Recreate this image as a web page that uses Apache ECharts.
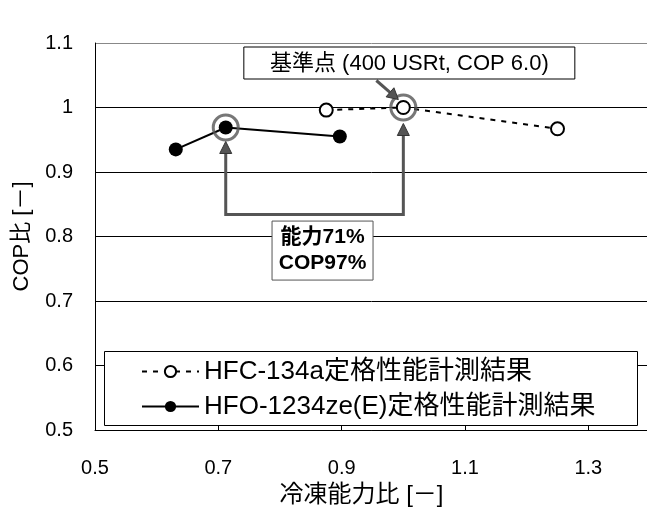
<!DOCTYPE html>
<html><head><meta charset="utf-8">
<script src="https://cdn.jsdelivr.net/npm/echarts@6/dist/echarts.min.js"></script>
<style>html,body{margin:0;padding:0;background:#fff}#c{width:647px;height:510px}</style>
</head><body><div id="c"></div>
<script>
// ---- data ----
const xTickValues = [0.5, 0.7, 0.9, 1.1, 1.3];
const xInnerTicks = [0.7, 0.9, 1.1, 1.3];
const hfcName = 'HFC-134a定格性能計測結果';
const hfcX = [0.875, 1.0, 1.25];
const hfcY = [0.996, 1.0, 0.967];
const hfoName = 'HFO-1234ze(E)定格性能計測結果';
const hfoX = [0.631, 0.712, 0.897];
const hfoY = [0.935, 0.969, 0.955];
const refLabel = '基準点 (400 USRt, COP 6.0)';
const noteLabel = '能力71%\nCOP97%';
const xName = '冷凍能力比 [－]';
const yName = 'COP比 [－]';
const bracketLevel = 0.834;

const FONT = '"Liberation Sans", "Noto Sans CJK JP", sans-serif';
const chart = echarts.init(document.getElementById('c'), null, {renderer: 'canvas'});
const zip = (xs, ys) => xs.map((x, i) => [x, ys[i]]);

chart.setOption({
  animation: false,
  backgroundColor: '#fff',
  textStyle: {fontFamily: FONT},
  grid: {left: 95, top: 43, width: 555, height: 387, containLabel: false, outerBoundsMode: 'none'},
  xAxis: {
    type: 'value', min: 0.5, max: 1.4,
    name: xName, nameLocation: 'middle', nameGap: 50,
    nameTextStyle: {fontSize: 24, color: '#000', fontFamily: FONT, padding: [0, 22, 0, 0]},
    axisLine: {show: true, lineStyle: {color: '#000', width: 1}},
    axisTick: {show: true, inside: true, length: 5, customValues: xInnerTicks, lineStyle: {color: '#000'}},
    axisLabel: {customValues: xTickValues, fontSize: 20, color: '#000', margin: 28, fontFamily: FONT,
      formatter: v => (Math.round(v * 10) / 10).toFixed(1)},
    splitLine: {show: false}
  },
  yAxis: {
    type: 'value', min: 0.5, max: 1.1, interval: 0.1,
    name: yName, nameLocation: 'middle', nameGap: 62, nameRotate: 90,
    nameTextStyle: {fontSize: 22, color: '#000', fontFamily: FONT},
    axisLine: {show: true, lineStyle: {color: '#000', width: 1}},
    axisTick: {show: false},
    axisLabel: {fontSize: 20, color: '#000', margin: 22, fontFamily: FONT,
      formatter: v => String(Math.round(v * 10) / 10)},
    splitLine: {show: true, lineStyle: {color: ['#000', '#000', '#000', '#000', '#000', '#000', '#888'], width: 1}}
  },
  legend: {
    orient: 'vertical', left: 141, top: 354, padding: 0, itemGap: 0,
    itemWidth: 57, itemHeight: 14,
    data: [hfcName, hfoName],
    textStyle: {fontSize: 26, lineHeight: 35, color: '#000', fontFamily: FONT},
    z: 6
  },
  series: [
    {
      name: hfcName, type: 'line', data: zip(hfcX, hfcY),
      symbol: 'emptyCircle', symbolSize: 13,
      lineStyle: {color: '#000', width: 2, type: [5, 6]},
      itemStyle: {color: '#000', borderColor: '#000', borderWidth: 1},
      z: 3
    },
    {
      name: hfoName, type: 'line', data: zip(hfoX, hfoY),
      symbol: 'circle', symbolSize: 14,
      lineStyle: {color: '#000', width: 2},
      itemStyle: {color: '#000'},
      z: 3
    },
    {
      name: 'highlight', type: 'scatter',
      data: [[hfoX[1], hfoY[1]], [hfcX[1], hfcY[1]]],
      symbol: 'circle', symbolSize: 25,
      itemStyle: {color: 'rgba(0,0,0,0)', borderColor: '#555', borderWidth: 3},
      z: 4, silent: true
    }
  ]
});

const p1 = chart.convertToPixel({gridIndex: 0}, [hfoX[1], hfoY[1]]);
const p2 = chart.convertToPixel({gridIndex: 0}, [hfcX[1], hfcY[1]]);
const yb = chart.convertToPixel({gridIndex: 0}, [0.5, bracketLevel])[1];
const GRAY = '#555';

function upArrow(x, tipY) {
  return {type: 'polygon', shape: {points: [[x, tipY], [x - 6, tipY + 12], [x + 6, tipY + 12]]},
    style: {fill: GRAY, stroke: '#333', lineWidth: 1}, z: 10};
}
const tA = [p2[0] - 5, p2[1] - 8];
const sA = [p2[0] - 27, p2[1] - 27];
const dx = tA[0] - sA[0], dy = tA[1] - sA[1];
const L = Math.hypot(dx, dy), ux = dx / L, uy = dy / L;
const bA = [tA[0] - 11 * ux, tA[1] - 11 * uy];
const nx = -uy, ny = ux;
const midX = (p1[0] + p2[0]) / 2;

chart.setOption({
  graphic: [
    {type: 'rect', shape: {x: 104.5, y: 351.5, width: 533, height: 74},
      style: {fill: '#fff', stroke: '#000', lineWidth: 1}, z: 5},
    {type: 'polyline', shape: {points: [[p1[0], p1[1] + 24], [p1[0], yb], [p2[0], yb], [p2[0], p2[1] + 24]]},
      style: {stroke: GRAY, lineWidth: 3, fill: null}, z: 10},
    upArrow(p1[0], p1[1] + 14),
    upArrow(p2[0], p2[1] + 16),
    {type: 'rect', shape: {x: midX - 42.5, y: yb + 6.5, width: 101, height: 59},
      style: {fill: '#fff', stroke: GRAY, lineWidth: 1}, z: 11},
    {type: 'text', x: midX + 8, y: yb + 36,
      style: {text: noteLabel, fontSize: 21, fontWeight: 'bold', fill: '#000', fontFamily: FONT,
        align: 'center', verticalAlign: 'middle', lineHeight: 26}, z: 12},
    {type: 'rect', shape: {x: p2[0] - 159.5, y: p2[1] - 60.5, width: 331, height: 32},
      style: {fill: '#fff', stroke: '#000', lineWidth: 1}, z: 11},
    {type: 'text', x: p2[0] + 6, y: p2[1] - 44,
      style: {text: refLabel, fontSize: 22, fill: '#000', fontFamily: FONT,
        align: 'center', verticalAlign: 'middle'}, z: 12},
    {type: 'line', shape: {x1: sA[0], y1: sA[1], x2: bA[0], y2: bA[1]},
      style: {stroke: GRAY, lineWidth: 3}, z: 10},
    {type: 'polygon', shape: {points: [tA, [bA[0] + 6 * nx, bA[1] + 6 * ny], [bA[0] - 6 * nx, bA[1] - 6 * ny]]},
      style: {fill: GRAY, stroke: '#333', lineWidth: 1}, z: 10}
  ]
});
</script>
</body></html>
